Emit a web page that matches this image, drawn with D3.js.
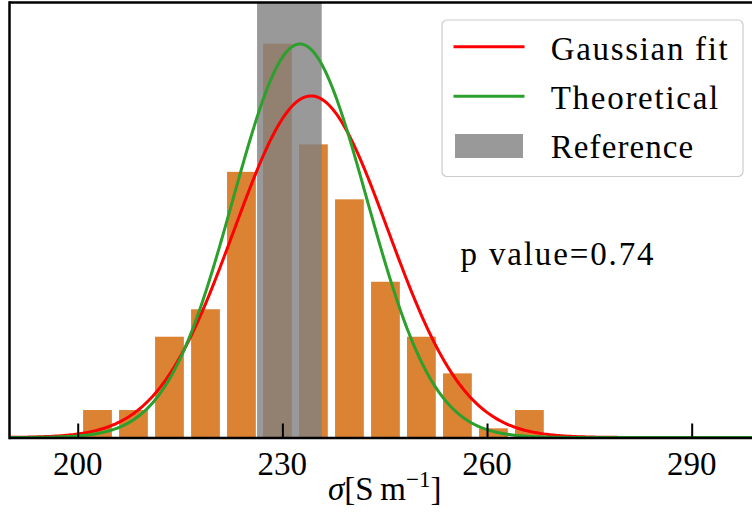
<!DOCTYPE html>
<html>
<head>
<meta charset="utf-8">
<script src="https://cdn.jsdelivr.net/npm/d3@7"></script>
<style>
  html, body { margin: 0; padding: 0; background: #fff; overflow: hidden; }
  text { font-family: "Liberation Serif", "Times New Roman", serif; fill: #000; }
</style>
</head>
<body>
<div id="chart"></div>
<script>
// ---- data ----
const binCenters = [202.90, 208.17, 213.45, 218.73, 224.00, 229.28, 234.55, 239.83, 245.11, 250.38, 255.66, 260.94, 266.21];
const binWidth = 5.276;
const counts = [3, 3, 11, 14, 29, 43, 32, 26, 17, 11, 7, 1, 3];
const sampleSize = 200;
const fitParams = { mu: 234.2, sigma: 11.29 };          // Gaussian fit
const theoryParams = { mu: 232.58, sigma: 9.80 };       // Theoretical
const referenceRange = [226.29, 235.77];                // Reference band
const xTicks = [200, 230, 260, 290];
const xDomain = [190, 300];
const yDomain = [0, 0.045];
const pValue = "0.74";
const legendLabels = ["Gaussian fit", "Theoretical", "Reference"];

// ---- layout ----
const W = 752, H = 529;
const L = 9.5, R = 759.9, T = 2.5, B = 437.5;
const colors = { bar: "#db8333", fit: "#ff0000", theory: "#2ca02c", ref: "#808080" };
const legendTextWidths = [177, 167.5, 142.5];

const svg = d3.select("#chart").append("svg")
  .attr("width", W).attr("height", H);

const x = d3.scaleLinear().domain(xDomain).range([L, R]);
const y = d3.scaleLinear().domain(yDomain).range([B, T]);

svg.append("defs").append("clipPath").attr("id", "clip")
  .append("rect").attr("x", L).attr("y", T).attr("width", R - L).attr("height", B - T);

const plot = svg.append("g").attr("clip-path", "url(#clip)");

// histogram bars (density), rwidth 0.8
const density = counts.map(c => c / (sampleSize * binWidth));
plot.append("g").selectAll("rect").data(binCenters).join("rect")
  .attr("x", (d) => x(d - 0.4 * binWidth))
  .attr("width", (d) => x(d + 0.4 * binWidth) - x(d - 0.4 * binWidth))
  .attr("y", (d, i) => y(density[i]))
  .attr("height", (d, i) => y(0) - y(density[i]))
  .attr("fill", colors.bar);

// x axis ticks (inward) - drawn below the reference band
const xAxis = d3.axisBottom(x).tickValues(xTicks).tickSizeInner(-14).tickSizeOuter(0).tickFormat("");
const axG = svg.append("g").attr("transform", `translate(0,${B})`).call(xAxis);
axG.select(".domain").remove();
axG.selectAll(".tick line").attr("stroke", "#000").attr("stroke-width", 2);

// reference band
plot.append("rect")
  .attr("x", x(referenceRange[0])).attr("width", x(referenceRange[1]) - x(referenceRange[0]))
  .attr("y", T).attr("height", B - T)
  .attr("fill", colors.ref).attr("fill-opacity", 0.8);

// gaussian curves
const pdf = (p) => (v) => Math.exp(-0.5 * ((v - p.mu) / p.sigma) ** 2) / (p.sigma * Math.sqrt(2 * Math.PI));
const xs = d3.range(xDomain[0], xDomain[1] + 0.01, 0.25);
const line = d3.line().x(d => x(d[0])).y(d => y(d[1]));
plot.append("path").datum(xs.map(v => [v, pdf(fitParams)(v)]))
  .attr("d", line).attr("fill", "none").attr("stroke", colors.fit).attr("stroke-width", 3);
plot.append("path").datum(xs.map(v => [v, pdf(theoryParams)(v)]))
  .attr("d", line).attr("fill", "none").attr("stroke", colors.theory).attr("stroke-width", 3);

// tick labels
svg.append("g").selectAll("text").data(xTicks).join("text")
  .attr("x", d => x(d)).attr("y", 475)
  .attr("text-anchor", "middle").attr("font-size", 33)
  .text(d => d);

// spines
svg.append("line").attr("x1", L).attr("x2", W).attr("y1", B + 0.5).attr("y2", B + 0.5).attr("stroke", "#000").attr("stroke-width", 2.5);
svg.append("line").attr("x1", L).attr("x2", W).attr("y1", T).attr("y2", T).attr("stroke", "#000").attr("stroke-width", 2.5);
svg.append("line").attr("x1", L).attr("x2", L).attr("y1", T - 1.25).attr("y2", B + 1.75).attr("stroke", "#000").attr("stroke-width", 2.5);

// x label
const xl = svg.append("text").attr("x", (L + R) / 2).attr("y", 500)
  .attr("text-anchor", "middle").attr("font-size", 33);
xl.append("tspan").attr("font-style", "italic").text("σ");
xl.append("tspan").text("[S\u2009m");
xl.append("tspan").attr("font-size", 23).attr("dy", -13).text("−1");
xl.append("tspan").attr("dy", 13).text("]");

// p value
svg.append("text").attr("x", 460.5).attr("y", 264.5).attr("font-size", 33)
  .attr("textLength", 193).attr("lengthAdjust", "spacing")
  .text("p value=" + pValue);

// legend
const lg = svg.append("g");
lg.append("rect").attr("x", 442).attr("y", 20).attr("width", 301).attr("height", 156.5)
  .attr("rx", 5).attr("fill", "#fff").attr("fill-opacity", 0.8)
  .attr("stroke", "#cccccc").attr("stroke-width", 1.2);
const rowsY = [46.7, 96.3, 146];
const baseY = [60, 108.5, 157.5];
lg.append("line").attr("x1", 453.5).attr("x2", 524.5).attr("y1", rowsY[0]).attr("y2", rowsY[0])
  .attr("stroke", colors.fit).attr("stroke-width", 3);
lg.append("line").attr("x1", 453.5).attr("x2", 524.5).attr("y1", rowsY[1]).attr("y2", rowsY[1])
  .attr("stroke", colors.theory).attr("stroke-width", 3);
lg.append("rect").attr("x", 455).attr("y", 134).attr("width", 68).attr("height", 24)
  .attr("fill", colors.ref).attr("fill-opacity", 0.8);
lg.selectAll("text.lab").data(legendLabels).join("text").attr("class", "lab")
  .attr("x", 550.7).attr("y", (d, i) => baseY[i]).attr("font-size", 33)
  .attr("textLength", (d, i) => legendTextWidths[i]).attr("lengthAdjust", "spacing")
  .text(d => d);
</script>
</body>
</html>
